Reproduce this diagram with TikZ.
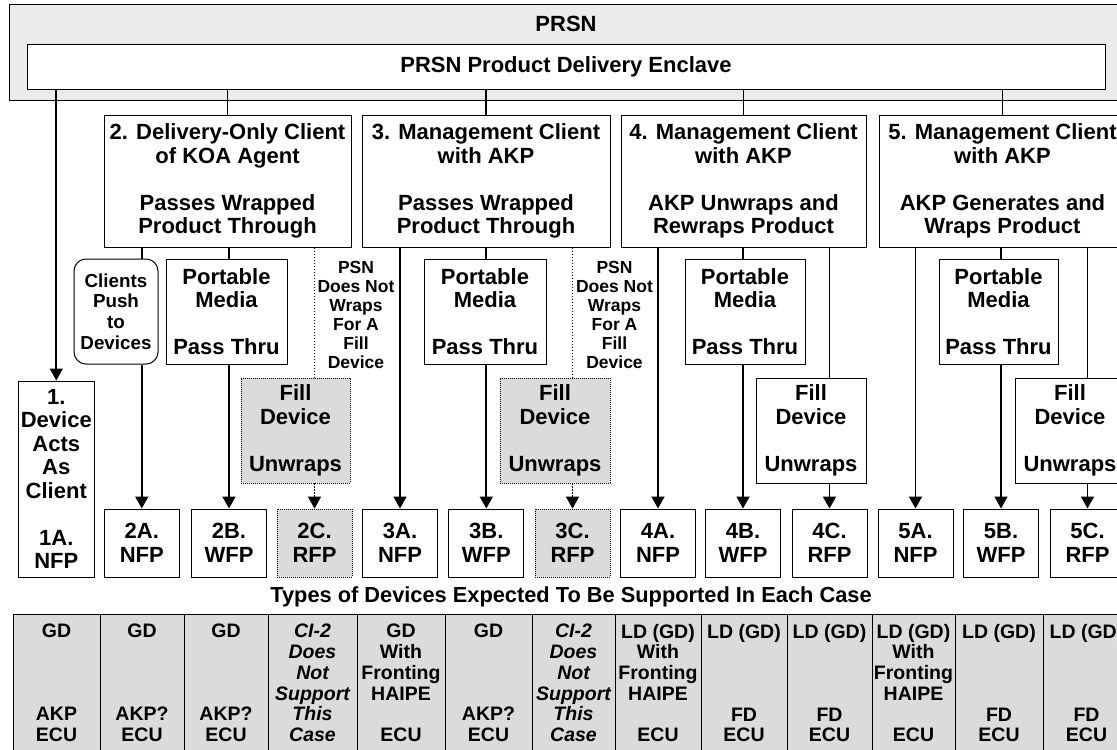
\documentclass[tikz,border=0pt]{standalone}
\usepackage{fontspec}
\setmainfont{Liberation Sans}
\usetikzlibrary{arrows.meta}

\definecolor{outerfill}{gray}{0.92}
\definecolor{cellfill}{gray}{0.86}

\newcommand\txtmain{\fontsize{22}{23.5}\selectfont\bfseries}
\newcommand\txtclient{\fontsize{18.8}{20.6}\selectfont\bfseries}
\newcommand\txtnote{\fontsize{17.5}{19}\selectfont\bfseries}
\newcommand\txttable{\fontsize{19.5}{20.7}\selectfont\bfseries}
\newcommand\txttitle{\fontsize{21.8}{24}\selectfont\bfseries}

\begin{document}
\begin{tikzpicture}[x=1pt, y=-1pt,
  box/.style={draw, line width=1pt, fill=white, inner sep=0pt, align=center, font=\txtmain},
  graybox/.style={box, fill=cellfill, line width=0.8pt, dash pattern=on 0.8pt off 1.2pt},
  casebox/.style={box, minimum width=247pt, minimum height=132pt},
  mediabox/.style={box, minimum height=105pt},
  fillbox/.style={box, minimum width=110pt, minimum height=105pt},
  endbox/.style={box, minimum width=75pt, minimum height=68pt},
  note/.style={font=\txtnote, align=center, inner sep=0pt},
  cell/.style={draw, line width=1pt, fill=cellfill, inner sep=0pt, align=center,
    font=\txttable, minimum height=138pt},
  link/.style={line width=1.8pt},
  arr/.style={link, -{Triangle[length=12pt,width=13pt]}},
  dotlink/.style={line width=1.2pt, dash pattern=on 1.2pt off 1.8pt},
  dotarr/.style={dotlink, -{Triangle[length=12pt,width=13pt]}}]

\useasboundingbox (0,0) rectangle (1117,750);
\fill[white] (0,0) rectangle (1117,750);
\clip (0,0) rectangle (1117,750);

% PRSN enclosure and delivery enclave
\node[draw, line width=1pt, fill=outerfill, inner sep=0pt,
      minimum width=1130pt, minimum height=96pt] (prsn) at (574,52) {};
\node[font=\txtmain, inner sep=0pt] (prsnlbl) at (566,24) {PRSN};
\node[box, minimum width=1078pt, minimum height=45pt] (enclave) at (566,66.5)
  {PRSN Product Delivery Enclave};

% Client cases
\node[casebox] (box2) at (227.5,181) {2. Delivery-Only Client\\of KOA Agent\\~\\Passes Wrapped\\Product Through};
\node[casebox, minimum width=248pt] (box3) at (486,181) {3. Management Client\\with AKP\\~\\Passes Wrapped\\Product Through};
\node[casebox, minimum width=245pt] (box4) at (743.5,181) {4. Management Client\\with AKP\\~\\AKP Unwraps and\\Rewraps Product};
\node[casebox] (box5) at (1002.5,181) {5. Management Client\\with AKP\\~\\AKP Generates and\\Wraps Product};

% Intermediate steps
\node[mediabox, minimum width=84pt, rounded corners=12pt, font=\txtclient] (clients) at (116,311.5) {Clients\\Push\\to\\Devices};
\node[mediabox, minimum width=121pt] (pm2) at (226.5,311.5) {Portable\\Media\\~\\Pass Thru};
\node[mediabox, minimum width=122pt] (pm3) at (485,311.5) {Portable\\Media\\~\\Pass Thru};
\node[mediabox, minimum width=120pt] (pm4) at (745,311.5) {Portable\\Media\\~\\Pass Thru};
\node[mediabox, minimum width=119pt] (pm5) at (998.5,311.5) {Portable\\Media\\~\\Pass Thru};

\node[note] (note2) at (356,314.5) {PSN\\Does Not\\Wraps\\For A\\Fill\\Device};
\node[note] (note3) at (614.5,314.5) {PSN\\Does Not\\Wraps\\For A\\Fill\\Device};

\node[fillbox, graybox, minimum width=109pt] (fill2) at (295.5,430.5) {Fill\\Device\\~\\Unwraps};
\node[fillbox, graybox] (fill3) at (555,430.5) {Fill\\Device\\~\\Unwraps};
\node[fillbox] (fill4) at (811,430.5) {Fill\\Device\\~\\Unwraps};
\node[fillbox] (fill5) at (1070,430.5) {Fill\\Device\\~\\Unwraps};

% Device acting as client
\node[box, minimum width=75.5pt, minimum height=196pt] (box1) at (56.3,479)
  {1.\\Device\\Acts\\As\\Client\\~\\1A.\\NFP};

% Delivered products
\node[endbox] (b2A) at (141.8,543) {2A.\\NFP};
\node[endbox] (b2B) at (229,543) {2B.\\WFP};
\node[endbox, graybox] (b2C) at (314.5,543) {2C.\\RFP};
\node[endbox] (b3A) at (400,543) {3A.\\NFP};
\node[endbox] (b3B) at (486.3,543) {3B.\\WFP};
\node[endbox, graybox] (b3C) at (572.5,543) {3C.\\RFP};
\node[endbox] (b4A) at (658,543) {4A.\\NFP};
\node[endbox] (b4B) at (743,543) {4B.\\WFP};
\node[endbox] (b4C) at (829.5,543) {4C.\\RFP};
\node[endbox] (b5A) at (915.5,543) {5A.\\NFP};
\node[endbox] (b5B) at (1001,543) {5B.\\WFP};
\node[endbox] (b5C) at (1087.5,543) {5C.\\RFP};

% Connectors from the enclave
\draw[arr] (enclave.south -| box1.north) -- (box1.north);
\foreach \b in {box2,box3,box4,box5}
  \draw[link] (enclave.south -| \b.north) -- (\b.north);

% Case 2
\draw[link] (box2.south -| b2A.north) -- (clients.north -| b2A.north);
\draw[arr] (clients.south -| b2A.north) -- (b2A.north);
\draw[link] (box2.south -| b2B.north) -- (pm2.north -| b2B.north);
\draw[arr] (pm2.south -| b2B.north) -- (b2B.north);
\draw[dotlink] (box2.south -| b2C.north) -- (fill2.north -| b2C.north);
\draw[dotarr] (fill2.south -| b2C.north) -- (b2C.north);

% Case 3
\draw[arr] (box3.south -| b3A.north) -- (b3A.north);
\draw[link] (box3.south -| b3B.north) -- (pm3.north -| b3B.north);
\draw[arr] (pm3.south -| b3B.north) -- (b3B.north);
\draw[dotlink] (box3.south -| b3C.north) -- (fill3.north -| b3C.north);
\draw[dotarr] (fill3.south -| b3C.north) -- (b3C.north);

% Case 4
\draw[arr] (box4.south -| b4A.north) -- (b4A.north);
\draw[link] (box4.south -| b4B.north) -- (pm4.north -| b4B.north);
\draw[arr] (pm4.south -| b4B.north) -- (b4B.north);
\draw[link] (box4.south -| b4C.north) -- (fill4.north -| b4C.north);
\draw[arr] (fill4.south -| b4C.north) -- (b4C.north);

% Case 5
\draw[arr] (box5.south -| b5A.north) -- (b5A.north);
\draw[link] (box5.south -| b5B.north) -- (pm5.north -| b5B.north);
\draw[arr] (pm5.south -| b5B.north) -- (b5B.north);
\draw[link] (box5.south -| b5C.north) -- (fill5.north -| b5C.north);
\draw[arr] (fill5.south -| b5C.north) -- (b5C.north);

% Device table
\node[font=\txttitle, inner sep=0pt] (ttitle) at (571,597)
  {Types of Devices Expected To Be Supported In Each Case};

\node[cell, minimum width=87pt] (t1) at (56.5,683) {GD\\~\\~\\~\\AKP\\ECU};
\node[cell, minimum width=84pt] (t2) at (142,683) {GD\\~\\~\\~\\AKP?\\ECU};
\node[cell, minimum width=84pt] (t3) at (226,683) {GD\\~\\~\\~\\AKP?\\ECU};
\node[cell, minimum width=89pt, font=\txttable\itshape] (t4) at (312.5,683) {CI-2\\Does\\Not\\Support\\This\\Case};
\node[cell, minimum width=88pt] (t5) at (401,683) {GD\\With\\Fronting\\HAIPE\\~\\ECU};
\node[cell, minimum width=87pt] (t6) at (488.5,683) {GD\\~\\~\\~\\AKP?\\ECU};
\node[cell, minimum width=83pt, font=\txttable\itshape] (t7) at (573.5,683) {CI-2\\Does\\Not\\Support\\This\\Case};
\node[cell, minimum width=86pt] (t8) at (658,683) {LD (GD)\\With\\Fronting\\HAIPE\\~\\ECU};
\node[cell, minimum width=86pt] (t9) at (744,683) {LD (GD)\\~\\~\\~\\FD\\ECU};
\node[cell, minimum width=85pt] (t10) at (829.5,683) {LD (GD)\\~\\~\\~\\FD\\ECU};
\node[cell, minimum width=83pt] (t11) at (913.5,683) {LD (GD)\\With\\Fronting\\HAIPE\\~\\ECU};
\node[cell, minimum width=88pt] (t12) at (999,683) {LD (GD)\\~\\~\\~\\FD\\ECU};
\node[cell, minimum width=87pt] (t13) at (1086.5,683) {LD (GD)\\~\\~\\~\\FD\\ECU};

\end{tikzpicture}
\end{document}
